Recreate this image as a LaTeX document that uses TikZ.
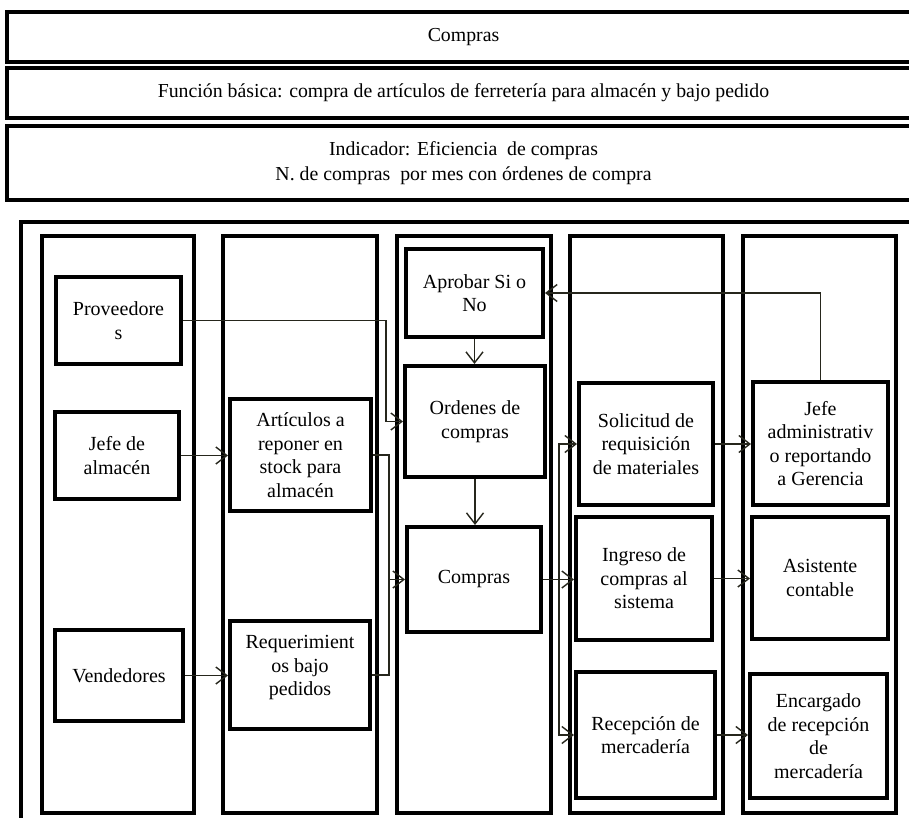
\documentclass[tikz,border=0pt]{standalone}
\usepackage{fontspec}
\setmainfont{Liberation Serif}
\usetikzlibrary{arrows.meta}
\definecolor{wire}{RGB}{38,38,28}
\begin{document}
\begin{tikzpicture}[x=1pt,y=-1pt,
  banner/.style={draw=black, line width=3.5pt, rectangle, align=center, inner sep=0pt,
    font=\fontsize{19.8}{25}\selectfont},
  lane/.style={draw=black, line width=3.5pt, rectangle, inner sep=0pt},
  stepbox/.style={draw=black, line width=4pt, rectangle, align=center, inner sep=0pt,
    font=\fontsize{20}{23.5}\selectfont},
  conn/.style={draw=wire, line width=1.3pt, -{Straight Barb[length=11pt,width=17pt,line width=1.4pt]}},
  link/.style={draw=wire, line width=1.3pt}]
\useasboundingbox (0,0) rectangle (909,818);
\clip (0,0) rectangle (909,818);

% header bands
\node[banner, minimum width=913pt, minimum height=50pt] (title) at (463.5,37) {Compras};
\node[banner, minimum width=913pt, minimum height=50pt] (func) at (463.5,93)
  {Función básica: compra de artículos de ferretería para almacén y bajo pedido};
\node[banner, minimum width=913pt, minimum height=74pt] (ind) at (463.5,163)
  {Indicador: Eficiencia\ \ de compras\\N. de compras\ \ por mes con órdenes de compra};

% outer frame
\draw[black, line width=3.5pt] (21,840) -- (21,222) -- (930,222);

% swim lanes
\node[lane, minimum width=152pt, minimum height=577pt] (L1) at (118,524.5) {};
\node[lane, minimum width=154pt, minimum height=577pt] (L2) at (300,524.5) {};
\node[lane, minimum width=154pt, minimum height=577pt] (L3) at (474,524.5) {};
\node[lane, minimum width=153pt, minimum height=577pt] (L4) at (646.5,524.5) {};
\node[lane, minimum width=153pt, minimum height=577pt] (L5) at (819.5,524.5) {};

% lane 1
\node[stepbox, minimum width=125pt, minimum height=87pt] (prov) at (118.5,320.5) {Proveedore\\s};
\node[stepbox, minimum width=124pt, minimum height=87pt] (jalm) at (117,455.5) {Jefe de\\almacén};
\node[stepbox, minimum width=128pt, minimum height=91pt] (vend) at (119,675.5) {Vendedores};
% lane 2
\node[stepbox, minimum width=141pt, minimum height=112pt] (art) at (300.5,455) {Artículos a\\reponer en\\stock para\\almacén};
\node[stepbox, minimum width=140pt, minimum height=108pt] (req) at (300,675) {Requerimient\\os bajo\\pedidos\\[-5pt]};
% lane 3
\node[stepbox, minimum width=137pt, minimum height=88pt] (aprob) at (474.5,293) {Aprobar Si o\\No};
\node[stepbox, minimum width=140pt, minimum height=111pt] (ord) at (475,421.5) {Ordenes de\\compras};
\node[stepbox, minimum width=134pt, minimum height=105pt] (comp) at (474,579.5) {Compras};
% lane 4
\node[stepbox, minimum width=134pt, minimum height=122pt] (sol) at (646,444) {Solicitud de\\requisición\\de materiales};
\node[stepbox, minimum width=136pt, minimum height=123pt] (ing) at (644,578.5) {Ingreso de\\compras al\\sistema};
\node[stepbox, minimum width=139pt, minimum height=126pt] (rec) at (645.5,735) {Recepción de\\mercadería};
% lane 5
\node[stepbox, minimum width=135pt, minimum height=123pt] (jadm) at (820.5,443.5) {Jefe\\administrativ\\o reportando\\a Gerencia};
\node[stepbox, minimum width=136pt, minimum height=122pt] (asis) at (820,578) {Asistente\\contable};
\node[stepbox, minimum width=137pt, minimum height=124pt] (enc) at (818.5,736) {Encargado\\de recepción\\de\\mercadería};

% elbow columns
\coordinate (j1) at (386,0);
\coordinate (j2) at (389,0);
\coordinate (j3) at (559,0);

% connectors
\draw[conn] (prov.east) -- (prov.east -| j1) |- (ord.west);
\draw[conn] (jalm.east) -- (jalm.east -| art.west);
\draw[conn] (vend.east) -- (vend.east -| req.west);
\draw[link] (req.east) -| (j2 |- comp.west);
\draw[conn] (art.east) -- (art.east -| j2) |- (comp.west);
\draw[conn] (aprob.south) -- (aprob.south |- ord.north);
\draw[conn] (ord.south) -- (ord.south |- comp.north);
\draw[conn] (comp.east) -- (comp.east -| ing.west);
\draw[conn] (comp.east -| j3) |- (sol.west);
\draw[conn] (comp.east -| j3) |- (rec.west);
\draw[conn] (sol.east) -- (sol.east -| jadm.west);
\draw[conn] (ing.east) -- (ing.east -| asis.west);
\draw[conn] (rec.east) -- (rec.east -| enc.west);
\draw[conn] (jadm.north) |- (aprob.east);
\end{tikzpicture}
\end{document}
